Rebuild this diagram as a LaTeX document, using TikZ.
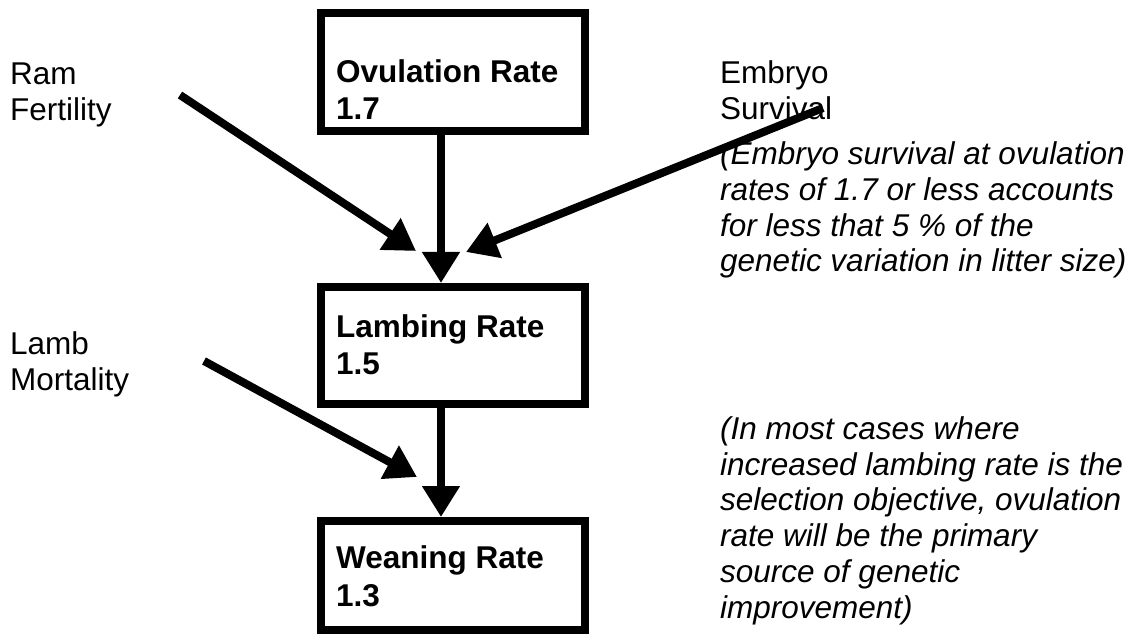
\documentclass[tikz,border=0pt]{standalone}
\usepackage{fontspec}
\setmainfont{Liberation Sans}
\usetikzlibrary{arrows.meta}
\begin{document}
\begin{tikzpicture}[x=1pt,y=-1pt,
  box/.style={draw, line width=8pt, minimum width=264pt, inner sep=0pt},
  lbl/.style={anchor=base west, align=left, inner sep=0pt, font=\fontsize{31.5}{36}\selectfont},
  bl/.style={anchor=base west, align=left, inner sep=0pt, font=\fontsize{31.5}{37.5}\selectfont\bfseries},
  note/.style={anchor=base west, align=left, inner sep=0pt, font=\fontsize{31.5}{35.7}\selectfont\itshape},
  arr/.style={line width=8pt, -{Triangle[length=31pt,width=36pt]}}]
\useasboundingbox (0,0) rectangle (1136,636);
% boxes
\node[box, minimum height=118pt] (ov) at (453,72) {};
\node[box, minimum height=117pt] (lb) at (453,345.5) {};
\node[box, minimum height=109pt] (wn) at (453,575.5) {};
\node[bl] (ovt) at (336,120) {Ovulation Rate\\1.7};
\node[bl] (lbt) at (336,375) {Lambing Rate\\1.5};
\node[bl] (wnt) at (336,606) {Weaning Rate\\1.3};
% side labels
\node[lbl] (ram) at (10,121) {Ram\\Fertility};
\node[lbl] (lm) at (10,391) {Lamb\\Mortality};
\node[lbl] (emb) at (720,120) {Embryo\\Survival};
\node[note] (n1) at (720,272) {(Embryo survival at ovulation\\rates of 1.7 or less accounts\\for less that 5 \% of the\\genetic variation in litter size)};
\node[note] (n2) at (720,618) {(In most cases where\\increased lambing rate is the\\selection objective, ovulation\\rate will be the primary\\source of genetic\\improvement)};
% connectors
\coordinate (ramS) at (180,95);
\coordinate (ramT) at (416,251);
\coordinate (embS) at (823,108);
\coordinate (embT) at (466,252);
\coordinate (lmS) at (204,361);
\coordinate (lmT) at (417,477);
\draw[arr] ([xshift=-12pt]ov.south) -- ([xshift=-12pt]lb.north);
\draw[arr] ([xshift=-12pt]lb.south) -- ([xshift=-12pt]wn.north);
\draw[arr] (ramS) -- (ramT);
\draw[arr] (embS) -- (embT);
\draw[arr] (lmS) -- (lmT);
\end{tikzpicture}
\end{document}
